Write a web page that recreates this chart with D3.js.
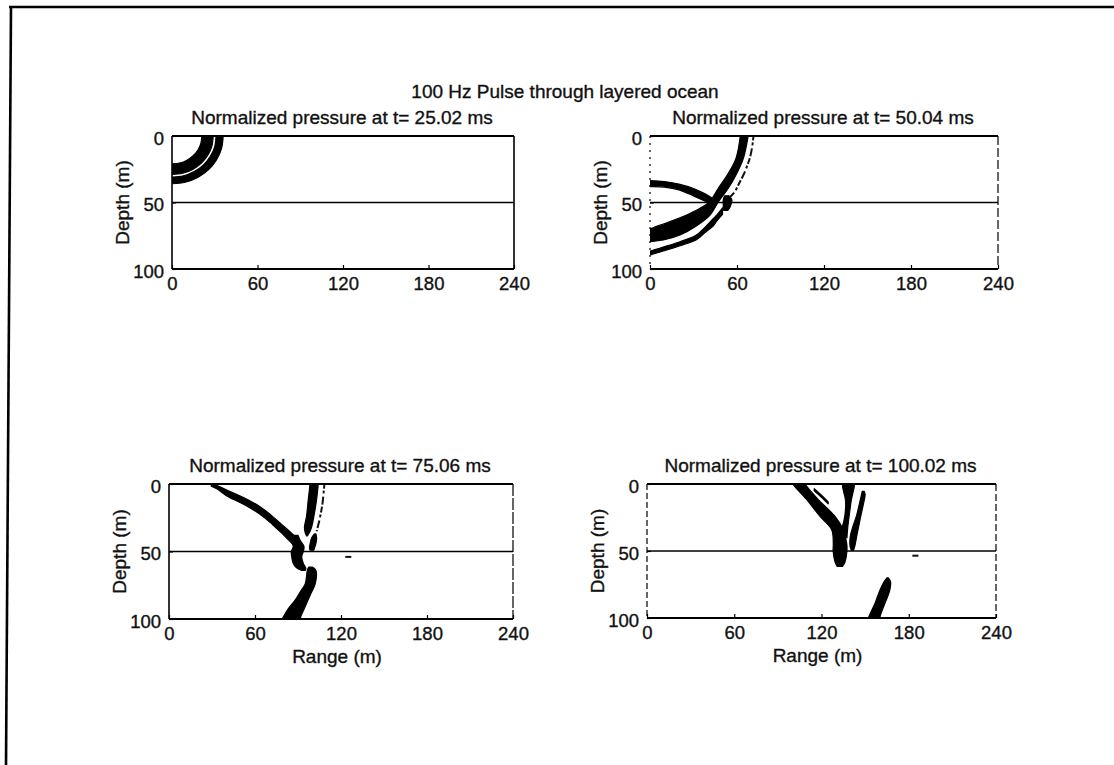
<!DOCTYPE html>
<html>
<head>
<meta charset="utf-8">
<script src="https://cdn.jsdelivr.net/npm/d3@7"></script>
<style>
  html, body { margin: 0; padding: 0; background: #fff; }
  svg { display: block; }
  text { font-family: "Liberation Sans", Arial, sans-serif; fill: #111; stroke: #111; stroke-width: 0.35px; }
</style>
</head>
<body>
<svg id="fig" width="1114" height="765"></svg>
<script>
// ---- figure content ----
const figureTitle = "100 Hz Pulse through layered ocean";
const snapshotTimes = ["25.02", "50.04", "75.06", "100.02"];
const rangeTicks = [0, 60, 120, 180, 240];
const depthTicks = [0, 50, 100];
const rangeDomain = [0, 240];
const depthDomain = [0, 100];
const interfaceDepth = 50;
const rangeLabel = "Range (m)";
const depthLabel = "Depth (m)";

// Wavefront bands: each row is a cross-section [range0, depth0, range1, depth1] (m)
// joining one edge of the black band to the other.
// Traces: thin broken fronts, listed as [range, depth] points (m).

// t = 25.02 ms
const bands25 = [
  [[21, -2, 29, -2], [20.3, 5.4, 28, 7.5], [18.2, 10.5, 25.1, 14.5], [14.8, 14.8, 20.5, 20.5],
   [10.5, 18.2, 14.5, 25.1], [5.4, 20.3, 7.5, 28], [-2, 21, -2, 29]],
  [[31, -2, 36, -2], [30, 8, 34.8, 9.3], [26.8, 15.5, 31.2, 18], [21.9, 21.9, 25.5, 25.5],
   [15.5, 26.8, 18, 31.2], [8, 30, 9.3, 34.8], [-2, 31, -2, 36]]
];
const traces25 = [];

// t = 50.04 ms
const bands50 = [
  [[62.5, -2, 68, -2], [59.3, 16.8, 64.4, 16.8], [53.3, 29.3, 59.3, 29.3], [47.1, 39.3, 54, 39.3],
   [40.9, 49.6, 47.1, 49.6], [34.5, 54.4, 41.4, 59.4], [25.3, 59.4, 32.2, 67.4], [13.8, 64.4, 20.7, 74.4],
   [5, 67.8, 9.2, 78.2], [0, 69.9, 0, 79.5], [-2, 70.5, -2, 80]],
  [[-2, 33.5, -2, 38], [0, 33.5, 0, 38], [10, 34.3, 10, 38.4], [20, 36.2, 20, 40.5],
   [30, 39.5, 30, 45], [38, 43.5, 38, 49], [44, 47.5, 44, 51]],
  [[51.5, 45, 54.5, 45], [50.5, 48, 56.5, 48], [50.5, 51, 56, 51], [50.5, 54, 55, 54], [50, 56, 53.5, 56]],
  [[50, 54, 50, 59], [46, 59.5, 46, 64], [43.7, 62, 43.7, 67.5], [38, 68.5, 38, 72.5],
   [32, 74.5, 32, 78], [20.7, 79.5, 20.7, 82.5], [9.2, 83.5, 9.2, 86.5], [0, 86.5, 0, 89.5], [-2, 87, -2, 90]]
];
const traces50 = [
  [[72, -1], [71.5, 0], [70.5, 8], [68.8, 16.8], [66.8, 23], [64.4, 29.3], [61.5, 35.5], [58.5, 41.8], [55, 46]]
];

// t = 75.06 ms
const bands75 = [
  [[29.5, 0.8, 29.5, 1.6], [33, 1, 33, 3.4], [40, 4.3, 40, 8.6], [52, 10, 52, 15],
   [63.5, 16.8, 63.5, 22.4], [72, 23.8, 72, 29.8], [79, 30.3, 79, 36.8], [84, 35, 84, 42], [87, 38, 87, 45]],
  [[87.5, 38, 90, 38], [85.1, 41.5, 91.4, 41.5], [86.7, 46.4, 94.2, 46.4], [85.3, 50, 93.7, 50],
   [85.6, 53.8, 92.6, 53.8], [86.7, 58.8, 93.7, 58.8], [89.5, 62.5, 95.5, 62.5], [92.5, 64, 95, 64]],
  [[98.3, -1, 104.3, -1], [98.3, 0.7, 104.1, 0.7], [97.1, 12.1, 102.9, 12.1], [95.9, 24.4, 101, 24.4],
   [94.5, 32, 99.5, 32], [95, 36, 98, 36], [96, 38.5, 96.5, 38.5]],
  [[101.5, 37, 102.5, 37], [99.5, 40, 103, 40], [98.5, 44, 102.5, 44], [98, 47.5, 101.5, 47.5], [98.5, 49, 101, 49]],
  [[97.5, 61.5, 100, 61.5], [96.5, 64, 102.5, 64], [95, 74, 102, 74], [91.5, 80, 99.5, 80],
   [88, 86, 97, 86], [83.5, 92, 94.5, 92], [80, 98, 92, 98], [78, 102, 91, 102]]
];
const traces75 = [
  [[108.5, -1], [108, 5], [107, 15], [105.5, 24], [104, 31], [103, 35]],
  [[123, 54], [127.5, 54]]
];

// t = 100.02 ms
const bands100 = [
  [[100, -1, 108.5, -1], [100.6, 0.5, 109, 0.5], [109.8, 11.7, 117.8, 11.7], [119, 24.2, 129.3, 24.2],
   [127, 34.1, 135, 34.1], [128.1, 44, 137.3, 44], [128, 49.8, 137.5, 49.8], [129.3, 58, 136.2, 58], [130.8, 61.5, 134.5, 61.5]],
  [[134.5, -1, 142.5, -1], [134.5, 2, 142.5, 2], [135.5, 7, 141.5, 7], [136.5, 12, 140.5, 12],
   [136, 24, 139, 24], [134, 33, 138, 33], [131, 40, 137.5, 40]],
  [[115, 3.5, 115, 5], [120, 8.4, 120, 9.9], [124.6, 13.4, 124.6, 14.8]],
  [[148, 5.5, 149.5, 5.5], [147.5, 8, 150, 8], [146, 15, 148.8, 15], [144, 24, 147, 24],
   [141.5, 32, 145.5, 32], [139.8, 39, 144.2, 39], [139.6, 46, 143, 46], [140.5, 49.5, 142, 49.5]],
  [[165, 70, 166, 70], [163, 73, 167.5, 73], [160.3, 79, 167, 79], [158.5, 84, 165.5, 84],
   [156.9, 88.8, 163.7, 88.8], [153, 98, 160.5, 98], [152, 101, 160, 101]]
];
const traces100 = [
  [[182.5, 53.5], [187, 53.5]]
];

const snapshotBands = [bands25, bands50, bands75, bands100];
const snapshotTraces = [traces25, traces50, traces75, traces100];

// ---- layout (pixels) ----
// sideDash: stroke pattern used for the left / right sides of each axes box
const frames = [
  { left: 172, right: 514, top: 136, bottom: 269, showRangeLabel: false, leftDash: null, rightDash: null },
  { left: 650, right: 998, top: 136, bottom: 269, showRangeLabel: false, leftDash: "2 5", rightDash: "9 3" },
  { left: 169, right: 513, top: 484, bottom: 619, showRangeLabel: true, leftDash: null, rightDash: "12 2" },
  { left: 647, right: 996, top: 484, bottom: 618, showRangeLabel: true, leftDash: "6 3", rightDash: "7 3" }
];
const FONT = 19;
const TICK_FONT = 18.5;

const svg = d3.select("#fig");

// outer figure border (top and left edges)
svg.append("line").attr("x1", 9).attr("y1", 7).attr("x2", 1114).attr("y2", 7)
  .attr("stroke", "#000").attr("stroke-width", 2.6);
svg.append("line").attr("x1", 11).attr("y1", 6).attr("x2", 6).attr("y2", 765)
  .attr("stroke", "#000").attr("stroke-width", 2.6);

// figure title
svg.append("text")
  .attr("x", 565).attr("y", 98)
  .attr("text-anchor", "middle")
  .style("font-size", FONT + "px")
  .text(figureTitle);

frames.forEach((f, i) => {
  const x = d3.scaleLinear().domain(rangeDomain).range([f.left, f.right]);
  const y = d3.scaleLinear().domain(depthDomain).range([f.top, f.bottom]);
  const g = svg.append("g");

  const clipId = "clip" + i;
  svg.append("clipPath").attr("id", clipId)
    .append("rect")
    .attr("x", f.left).attr("y", f.top)
    .attr("width", f.right - f.left).attr("height", f.bottom - f.top);

  const plot = g.append("g").attr("clip-path", `url(#${clipId})`);

  // filled wavefront bands
  const area = d3.area()
    .x0(d => x(d[0])).y0(d => y(d[1]))
    .x1(d => x(d[2])).y1(d => y(d[3]))
    .curve(d3.curveCatmullRom.alpha(0.5));
  plot.selectAll("path.band")
    .data(snapshotBands[i])
    .join("path")
    .attr("class", "band")
    .attr("d", area)
    .attr("fill", "#000")
    .attr("stroke", "#000")
    .attr("stroke-width", 1.2)
    .attr("stroke-linejoin", "round");

  // thin broken fronts
  const line = d3.line()
    .x(d => x(d[0])).y(d => y(d[1]))
    .curve(d3.curveCatmullRom.alpha(0.5));
  plot.selectAll("path.trace")
    .data(snapshotTraces[i])
    .join("path")
    .attr("class", "trace")
    .attr("d", line)
    .attr("fill", "none")
    .attr("stroke", "#111")
    .attr("stroke-width", 2)
    .attr("stroke-dasharray", "6 2 3 3 8 2");

  // layer interface
  g.append("line")
    .attr("x1", x(rangeDomain[0])).attr("x2", x(rangeDomain[1]))
    .attr("y1", y(interfaceDepth)).attr("y2", y(interfaceDepth))
    .attr("stroke", "#000").attr("stroke-width", 1.3);

  // axes with inward ticks
  const xAxis = d3.axisBottom(x).tickValues(rangeTicks).tickSizeInner(-4).tickSizeOuter(0).tickPadding(8);
  const yAxis = d3.axisLeft(y).tickValues(depthTicks).tickSizeInner(-4).tickSizeOuter(0).tickPadding(8);

  const gx = g.append("g").attr("transform", `translate(0,${f.bottom})`).call(xAxis);
  const gy = g.append("g").attr("transform", `translate(${f.left},0)`).call(yAxis);
  [gx, gy].forEach(a => {
    a.select(".domain").remove();
    a.selectAll(".tick line").attr("stroke", "#000").attr("stroke-width", 1.2);
    a.selectAll(".tick text").style("font-size", TICK_FONT + "px")
      .attr("fill", "#111").style("font-family", '"Liberation Sans", Arial, sans-serif');
  });
  gy.selectAll(".tick text").attr("dy", "0.45em");

  // axes box: solid top and bottom, sides as scanned
  const box = g.append("g").attr("stroke", "#000").attr("fill", "none");
  box.append("line").attr("x1", f.left).attr("x2", f.right).attr("y1", f.top).attr("y2", f.top)
    .attr("stroke-width", 1.8);
  box.append("line").attr("x1", f.left).attr("x2", f.right).attr("y1", f.bottom).attr("y2", f.bottom)
    .attr("stroke-width", 1.8);
  box.append("line").attr("x1", f.left).attr("x2", f.left).attr("y1", f.top).attr("y2", f.bottom)
    .attr("stroke-width", f.leftDash ? 1.2 : 1.6)
    .attr("stroke-dasharray", f.leftDash);
  box.append("line").attr("x1", f.right).attr("x2", f.right).attr("y1", f.top).attr("y2", f.bottom)
    .attr("stroke-width", f.rightDash ? 1.2 : 1.6)
    .attr("stroke-dasharray", f.rightDash);

  // panel title
  g.append("text")
    .attr("x", (f.left + f.right) / 2 - 1).attr("y", f.top - 12)
    .attr("text-anchor", "middle")
    .style("font-size", FONT + "px")
    .text("Normalized pressure at t= " + snapshotTimes[i] + " ms");

  // depth label
  g.append("text")
    .attr("transform", `translate(${f.left - 43},${(f.top + f.bottom) / 2}) rotate(-90)`)
    .attr("text-anchor", "middle")
    .style("font-size", FONT + "px")
    .text(depthLabel);

  if (f.showRangeLabel) {
    g.append("text")
      .attr("x", (f.left + f.right) / 2 - 4).attr("y", f.bottom + 44)
      .attr("text-anchor", "middle")
      .style("font-size", FONT + "px")
      .text(rangeLabel);
  }
});
</script>
</body>
</html>
